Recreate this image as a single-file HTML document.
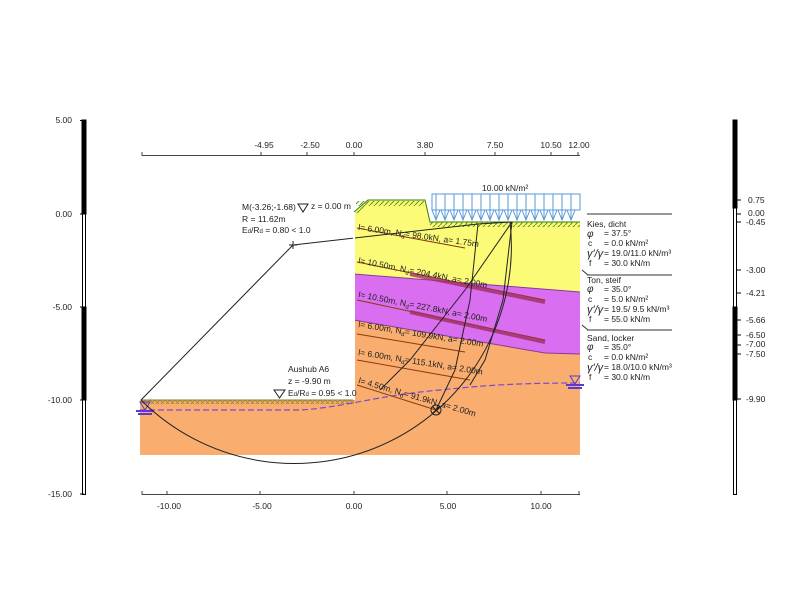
<!DOCTYPE html>
<html><head><meta charset="utf-8"><style>body{margin:0;background:#fff}svg{display:block;font-family:"Liberation Sans",Arial,sans-serif}</style></head><body>
<svg width="800" height="600" viewBox="0 0 800 600">
<defs>
<pattern id="h" width="5" height="5" patternUnits="userSpaceOnUse"><path d="M0 5L5 0" stroke="#5a9a1a" stroke-width="1"/></pattern>
<pattern id="h2" width="5" height="5" patternUnits="userSpaceOnUse"><path d="M0 5L5 0M0 0L5 5" stroke="#9a8a30" stroke-width="0.8"/></pattern>
</defs>
<!-- soils -->
<path d="M140 400 L354 400 L354 455 L140 455Z" fill="#f9ad6e"/>
<path d="M354 320 L545 353 L580 354 L580 455 L354 455Z" fill="#f9ad6e"/>
<path d="M354 274 L580 292 L580 354 L545 353 L354 320Z" fill="#d96ef0"/>
<path d="M354 212 L368 200 L425 200 L430 222 L580 222 L580 292 L354 274Z" fill="#fbfb78"/>
<path d="M354 274 L580 292" stroke="#8a3a9a" fill="none"/>
<path d="M354 320 L545 353 L580 354" stroke="#8a3a9a" fill="none"/>
<!-- ground hatch -->
<path d="M354 212 L368 200 L425 200 L430 222 L580 222" stroke="#3a7a10" fill="none"/>
<rect x="356" y="201" width="68" height="5" fill="url(#h)"/>
<rect x="430" y="222" width="150" height="5" fill="url(#h)"/>
<path d="M355 212 L368 201 L368 206 L358 214Z" fill="url(#h)"/>
<rect x="142" y="400" width="212" height="4" fill="url(#h2)"/>
<path d="M142 400 L354 400" stroke="#8a7a30"/>
<!-- water -->
<path d="M140 410 L300 410 C340 408 380 395 440 390 C480 386 510 383 580 383" stroke="#7a4ad0" stroke-width="1.2" stroke-dasharray="6,3" fill="none"/>
<path d="M570 376 L580 376 L575 384Z M140 402 L150 402 L145 410Z" fill="none" stroke="#5a3ad0"/>
<path d="M566 385 L584 385 M568 388 L582 388 M136 411 L154 411 M138 414 L152 414" stroke="#5a3ad0" stroke-width="2"/>
<!-- anchors -->
<g stroke="#8a3a10" stroke-width="1" fill="none">
<path d="M357 228 L465 248"/><path d="M357 262 L545 300"/><path d="M357 300 L545 340"/><path d="M357 334 L465 352"/><path d="M357 360 L470 380"/><path d="M357 385 L436 410"/>
</g>
<g stroke="#a03060" stroke-width="4" opacity="0.8"><path d="M410 274 L545 302"/><path d="M410 312 L545 342"/></g>
<g font-size="8.5" fill="#222">
<text transform="translate(358,230) rotate(8)">l= 6.00m, N<tspan font-size="6" dy="2">d</tspan><tspan dy="-2">= 98.0kN, a= 1.75m</tspan></text>
<text transform="translate(358,263) rotate(11)">l= 10.50m, N<tspan font-size="6" dy="2">d</tspan><tspan dy="-2">= 204.4kN, a= 2.00m</tspan></text>
<text transform="translate(358,297) rotate(11)">l= 10.50m, N<tspan font-size="6" dy="2">d</tspan><tspan dy="-2">= 227.8kN, a= 2.00m</tspan></text>
<text transform="translate(358,327) rotate(9)">l= 6.00m, N<tspan font-size="6" dy="2">d</tspan><tspan dy="-2">= 109.9kN, a= 2.00m</tspan></text>
<text transform="translate(358,355) rotate(9)">l= 6.00m, N<tspan font-size="6" dy="2">d</tspan><tspan dy="-2">= 115.1kN, a= 2.00m</tspan></text>
<text transform="translate(358,383) rotate(16)">l= 4.50m, N<tspan font-size="6" dy="2">d</tspan><tspan dy="-2">= 91.9kN, a= 2.00m</tspan></text>
</g>
<!-- slip circle -->
<g stroke="#222" stroke-width="1" fill="none">
<path d="M141 400 A217 217 0 0 0 510 222"/>
<path d="M293 245 L141 400"/><path d="M293 245 L478 224 L512 222"/>
<path d="M512 222 L465 290 L410 360 L380 390"/>
<path d="M478 224 L470 300 L455 370 L436 410"/>
<path d="M512 222 L503 300 L485 360 L470 385"/>
<path d="M289 245 h8 M293 241 v8"/>
<circle cx="436" cy="410" r="5"/><path d="M432 406 l8 8 M440 406 l-8 8"/>
</g>
<!-- wall -->
<path d="M354 212 L354 400" stroke="#fff" stroke-width="2"/>
<!-- load -->
<g stroke="#5a9ad8" fill="none" stroke-width="1">
<rect x="432" y="194" width="148" height="16"/>
<path d="M432 210 l4 10 l4 -10 M441 210 l4 10 l4 -10 M450 210 l4 10 l4 -10 M459 210 l4 10 l4 -10 M468 210 l4 10 l4 -10 M477 210 l4 10 l4 -10 M486 210 l4 10 l4 -10 M495 210 l4 10 l4 -10 M504 210 l4 10 l4 -10 M513 210 l4 10 l4 -10 M522 210 l4 10 l4 -10 M531 210 l4 10 l4 -10 M540 210 l4 10 l4 -10 M549 210 l4 10 l4 -10 M558 210 l4 10 l4 -10 M567 210 l4 10 l4 -10"/>
<path d="M436 194v26M445 194v26M454 194v26M463 194v26M472 194v26M481 194v26M490 194v26M499 194v26M508 194v26M517 194v26M526 194v26M535 194v26M544 194v26M553 194v26M562 194v26M571 194v26"/>
</g>
<text x="482" y="191" font-size="8.5" fill="#222">10.00 kN/m²</text>
<!-- texts left -->
<g font-size="8.5" fill="#222">
<text x="242" y="210">M(-3.26;-1.68)</text>
<path d="M298 204 L308 204 L303 212Z" fill="none" stroke="#222"/>
<text x="311" y="209">z =  0.00 m</text>
<text x="242" y="222">R = 11.62m</text>
<text x="242" y="233">E<tspan font-size="6">d</tspan>/R<tspan font-size="6">d</tspan> =  0.80 &lt; 1.0</text>
<text x="288" y="372">Aushub A6</text>
<text x="288" y="384">z  = -9.90 m</text>
<path d="M274 390 L285 390 L279.5 398Z" fill="none" stroke="#222"/>
<text x="288" y="396">E<tspan font-size="6">d</tspan>/R<tspan font-size="6">d</tspan> =  0.95 &lt; 1.0</text>
</g>
<!-- soil legend -->
<g stroke="#333" fill="none"><path d="M587 214H672M587 275H672M587 330H672M582 270l6 5M582 325l6 5"/></g>
<g font-size="8.5" fill="#222">
<text x="587" y="227">Kies, dicht</text>
<text x="587" y="237" font-style="italic" font-size="10">φ</text><text x="604" y="236">= 37.5°</text>
<text x="588" y="246">c</text><text x="604" y="246">=  0.0 kN/m²</text>
<text x="587" y="257" font-size="11" font-style="italic">γ'/γ</text><text x="604" y="256">= 19.0/11.0 kN/m³</text>
<text x="589" y="266">f</text><text x="604" y="266">= 30.0 kN/m</text>
<text x="587" y="283">Ton, steif</text>
<text x="587" y="292" font-style="italic" font-size="10">φ</text><text x="604" y="292">= 35.0°</text>
<text x="588" y="302">c</text><text x="604" y="302">=  5.0 kN/m²</text>
<text x="587" y="313" font-size="11" font-style="italic">γ'/γ</text><text x="604" y="312">= 19.5/ 9.5 kN/m³</text>
<text x="589" y="322">f</text><text x="604" y="322">= 55.0 kN/m</text>
<text x="587" y="341">Sand, locker</text>
<text x="587" y="350" font-style="italic" font-size="10">φ</text><text x="604" y="350">= 35.0°</text>
<text x="588" y="360">c</text><text x="604" y="360">=  0.0 kN/m²</text>
<text x="587" y="371" font-size="11" font-style="italic">γ'/γ</text><text x="604" y="370">= 18.0/10.0 kN/m³</text>
<text x="589" y="380">f</text><text x="604" y="380">= 30.0 kN/m</text>
</g>
<!-- left axis -->
<g stroke="#000" fill="none">
<rect x="82.5" y="120.5" width="3" height="374" fill="#fff"/>
<rect x="82" y="120" width="4" height="94" fill="#000"/>
<rect x="82" y="307" width="4" height="93" fill="#000"/>
<path d="M80 120.5h4M80 214h4M80 307h4M80 400h4M80 494h4"/>
</g>
<g font-size="8.5" fill="#222" text-anchor="end">
<text x="72" y="123">5.00</text><text x="72" y="217">0.00</text><text x="72" y="310">-5.00</text><text x="72" y="403">-10.00</text><text x="72" y="497">-15.00</text>
</g>
<!-- right axis -->
<g stroke="#000" fill="none">
<rect x="733.5" y="120.5" width="3" height="374" fill="#fff"/>
<rect x="733" y="120" width="4" height="88" fill="#000"/>
<rect x="733" y="307" width="4" height="93" fill="#000"/>
<path d="M737 200h4M737 214h4M737 222h4M737 270h4M737 293h4M737 320h4M737 335h4M737 345h4M737 354h4M737 399h4"/>
</g>
<g font-size="8.5" fill="#222">
<text x="748" y="203">0.75</text><text x="748" y="216">0.00</text><text x="746" y="225">-0.45</text><text x="746" y="273">-3.00</text><text x="746" y="296">-4.21</text><text x="746" y="323">-5.66</text><text x="746" y="338">-6.50</text><text x="746" y="347">-7.00</text><text x="746" y="357">-7.50</text><text x="746" y="402">-9.90</text>
</g>
<!-- top axis -->
<g stroke="#444" fill="none"><path d="M142 155.5H580M142 152v4M261 152v4M307 152v4M354 152v4M425 152v4M495 152v4M551 152v4M578 152v4"/></g>
<g font-size="8.5" fill="#222" text-anchor="middle">
<text x="264" y="148">-4.95</text><text x="310" y="148">-2.50</text><text x="354" y="148">0.00</text><text x="425" y="148">3.80</text><text x="495" y="148">7.50</text><text x="551" y="148">10.50</text><text x="579" y="148">12.00</text>
</g>
<!-- bottom axis -->
<g stroke="#444" fill="none"><path d="M142 494.5H580M142 491v4M167 491v4M260 491v4M354 491v4M447 491v4M541 491v4M579 491v4"/></g>
<g font-size="8.5" fill="#222" text-anchor="middle">
<text x="169" y="509">-10.00</text><text x="262" y="509">-5.00</text><text x="354" y="509">0.00</text><text x="448" y="509">5.00</text><text x="541" y="509">10.00</text>
</g>
</svg>
</body></html>
